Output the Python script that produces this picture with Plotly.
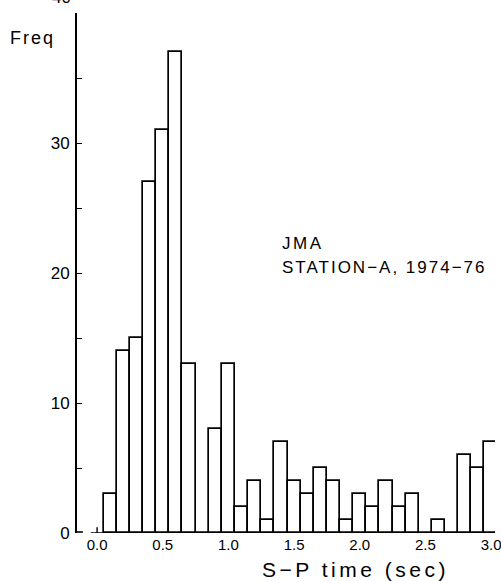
import plotly.graph_objects as go

# S-P time bin centers (sec) and frequencies
sp_time = [0.1, 0.2, 0.3, 0.4, 0.5, 0.6, 0.7, 0.8, 0.9, 1.0,
           1.1, 1.2, 1.3, 1.4, 1.5, 1.6, 1.7, 1.8, 1.9, 2.0,
           2.1, 2.2, 2.3, 2.4, 2.5, 2.6, 2.7, 2.8, 2.9, 3.0]
freq = [3, 14, 15, 27, 31, 37, 13, 0, 8, 13,
        2, 4, 1, 7, 4, 3, 5, 4, 1, 3,
        2, 4, 2, 3, 0, 1, 0, 6, 5, 7]

x_tick_vals = [0.0, 0.5, 1.0, 1.5, 2.0, 2.5, 3.0]
x_tick_text = ["0.0", "0.5", "1.0", "1.5", "2.0", "2.5", "3.0"]
y_tick_vals = [0, 10, 20, 30]
y_tick_text = ["0", "10", "20", "30"]

FONT = "Liberation Sans"
W, H = 501, 581
L, R, T, B = 77, 0, 13, 48

def px_x(px):
    return (px - L) / (W - L - R)

def px_y(py):
    return (H - B - py) / (H - T - B)

def spaced(s, sp):
    return '<span style="letter-spacing:%spx">%s</span>' % (sp, s)

fig = go.Figure()
fig.add_trace(go.Bar(
    x=sp_time, y=freq, width=0.1,
    marker=dict(color="white", line=dict(color="black", width=1.7)),
    showlegend=False,
))

fig.update_layout(
    width=W, height=H,
    margin=dict(l=L, r=R, t=T, b=B, pad=0),
    paper_bgcolor="white", plot_bgcolor="white",
    font=dict(family=FONT, color="black"),
    bargap=0,
    xaxis=dict(
        range=[-0.153, 3.03],
        tickvals=x_tick_vals, ticktext=x_tick_text,
        tickfont=dict(size=15, family=FONT),
        showgrid=False, zeroline=False, showline=False,
        ticks="", ticklabelstandoff=1,
        ticklabeloverflow="allow",
    ),
    yaxis=dict(
        range=[0, 40],
        tickvals=y_tick_vals, ticktext=y_tick_text,
        tickfont=dict(size=17, family=FONT),
        showgrid=False, zeroline=False,
        showline=True, linecolor="black", linewidth=1.7,
        ticks="inside", ticklen=5, tickwidth=1.4, tickcolor="black",
        minor=dict(dtick=5, ticks="inside", ticklen=5, tickwidth=1.4, tickcolor="black"),
        ticklabelstandoff=2,
    ),
)

# detached x axis baseline
fig.add_shape(type="line", xref="x", yref="y", x0=-0.048, x1=3.2, y0=0, y1=0,
              line=dict(color="black", width=1.7))
# small tick at 0.0
fig.add_shape(type="line", xref="x", yref="y", x0=0, x1=0, y0=0, y1=0.45,
              line=dict(color="black", width=1.4))
# foot of y axis
fig.add_shape(type="line", xref="paper", yref="paper", x0=0, x1=px_x(83), y0=px_y(532), y1=px_y(532),
              line=dict(color="black", width=1.6))

fig.add_annotation(text="40", xref="paper", yref="paper", x=px_x(73), y=px_y(9),
                   xanchor="right", yanchor="bottom", showarrow=False,
                   font=dict(size=17, family=FONT))
fig.add_annotation(text=spaced("Freq", 2), xref="paper", yref="paper", x=px_x(7), y=px_y(38),
                   xanchor="left", yanchor="middle", showarrow=False,
                   font=dict(size=18, family=FONT))
fig.add_annotation(text=spaced("S\u2212P time (sec)", 3.5), xref="paper", yref="paper", x=px_x(263), y=px_y(569),
                   xanchor="left", yanchor="middle", showarrow=False,
                   font=dict(size=21, family=FONT))
fig.add_annotation(text=spaced("JMA", 2.5), xref="paper", yref="paper", x=px_x(283), y=px_y(243),
                   xanchor="left", yanchor="middle", showarrow=False,
                   font=dict(size=17, family=FONT))
fig.add_annotation(text=spaced("STATION\u2212A, 1974\u221276", 2), xref="paper", yref="paper", x=px_x(283), y=px_y(267),
                   xanchor="left", yanchor="middle", showarrow=False,
                   font=dict(size=17, family=FONT))

fig.write_html("out.html")
